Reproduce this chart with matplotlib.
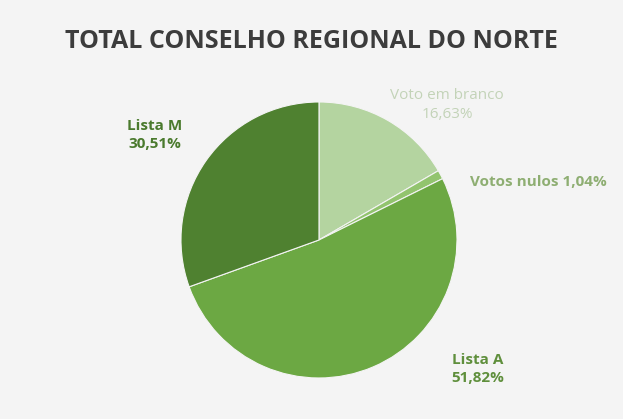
import matplotlib
matplotlib.use('Agg')
import matplotlib.pyplot as plt

# vote shares, clockwise from 12 o'clock
labels = ['Voto em branco', 'Votos nulos', 'Lista A', 'Lista M']
shares = [16.63, 1.04, 51.82, 30.51]
colors = ['#b4d4a0', '#92c46e', '#6ca843', '#4f8130']
label_colors = ['#c3d3b8', '#8eae72', '#5f8f3c', '#4a7a2d']

plt.rcParams['font.family'] = ['Open Sans', 'DejaVu Sans']

fig = plt.figure(figsize=(6.23, 4.19), dpi=100)
fig.patch.set_facecolor('#f4f4f4')

ax = fig.add_axes([0.2905, 0.0979, 0.443, 0.6587])
ax.set_facecolor('#f4f4f4')
ax.pie(shares, colors=colors, startangle=90, counterclock=False,
       wedgeprops=dict(edgecolor='#f4f4f4', linewidth=0.8))
ax.set_aspect('equal')
ax.set_xlim(-1, 1)
ax.set_ylim(-1, 1)

def fmt(v):
    return ('%.2f%%' % v).replace('.', ',')

# label anchors (data units relative to pie centre)
ax.text(0.93, 0.98, labels[0] + '\n' + fmt(shares[0]), ha='center', va='center',
        color=label_colors[0], fontsize=11, linespacing=1.35)
ax.text(1.59, 0.42, labels[1] + ' ' + fmt(shares[1]), ha='center', va='center',
        color=label_colors[1], fontsize=11, fontweight='bold')
ax.text(1.15, -0.935, labels[2] + '\n' + fmt(shares[2]), ha='center', va='center',
        color=label_colors[2], fontsize=11, fontweight='bold', linespacing=1.35)
ax.text(-1.19, 0.76, labels[3] + '\n' + fmt(shares[3]), ha='center', va='center',
        color=label_colors[3], fontsize=11, fontweight='bold', linespacing=1.35)

fig.text(0.5, 0.9, 'TOTAL CONSELHO REGIONAL DO NORTE', ha='center', va='center',
         fontsize=18, fontweight='bold', color='#3c3c3c')

fig.savefig('out.png', dpi=100, facecolor=fig.get_facecolor())
